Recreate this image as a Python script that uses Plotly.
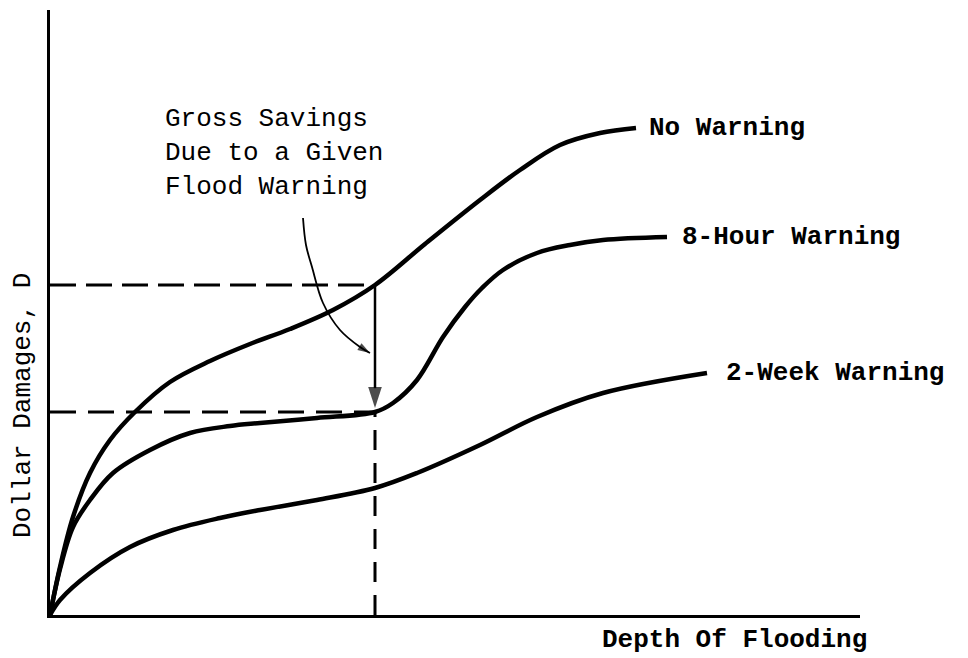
import plotly.graph_objects as go

# ---- data (arbitrary units) ----
no_warning_x = [0, 1.0, 2.3, 4.0, 6.0, 8.5, 12.0, 16.0, 20.0, 24.0, 28.3, 32.5, 37.5, 43.0, 47.0, 51.0, 55.0, 58.6]
no_warning_y = [0, 4.8, 9.8, 14.2, 17.5, 20.3, 23.3, 25.4, 27.1, 28.6, 30.5, 33.0, 37.1, 41.5, 44.5, 47.0, 48.2, 48.7]

hour8_x = [0, 1.0, 2.3, 4.0, 6.3, 10.0, 14.0, 18.0, 21.0, 26.7, 32.5, 34.3, 36.7, 39.3, 41.5, 43.2, 45.3, 48.7, 52.0, 55.3, 61.7]
hour8_y = [0, 4.6, 8.8, 11.5, 14.2, 16.5, 18.2, 18.9, 19.2, 19.7, 20.3, 21.2, 23.5, 27.8, 30.8, 32.7, 34.5, 36.2, 37.0, 37.5, 37.8]

week2_x = [0, 1.0, 4.0, 8.0, 12.3, 17.0, 21.0, 26.7, 32.5, 36.7, 43.0, 48.7, 55.3, 65.7]
week2_y = [0, 1.5, 4.2, 6.8, 8.5, 9.7, 10.5, 11.5, 12.7, 14.2, 17.0, 19.8, 22.2, 24.2]

curve_names = ["No Warning", "8-Hour Warning", "2-Week Warning"]

depth_given = 32.5
damage_no_warning = 33.0
damage_8hour = 20.3

# curved pointer from annotation text to the savings arrow
pointer_x = [25.3, 25.6, 26.2, 27.3, 29.0, 31.0, 32.0]
pointer_y = [39.7, 37.0, 34.8, 31.2, 28.5, 26.8, 26.2]

x_range = [0, 81]
y_range = [0, 60.5]

FONT = "Liberation Mono, Courier New, monospace"

fig = go.Figure()

# dashed reference lines
fig.add_trace(go.Scatter(x=[0, depth_given], y=[damage_no_warning, damage_no_warning], mode="lines",
                         line=dict(color="black", width=3, dash="26px,10px"), hoverinfo="skip"))
fig.add_trace(go.Scatter(x=[0, depth_given], y=[damage_8hour, damage_8hour], mode="lines",
                         line=dict(color="black", width=3, dash="26px,12px"), hoverinfo="skip"))
fig.add_trace(go.Scatter(x=[depth_given, depth_given], y=[0, damage_8hour], mode="lines",
                         line=dict(color="black", width=3, dash="20px,13px"), hoverinfo="skip"))

# curves
for xs, ys, nm in [(no_warning_x, no_warning_y, curve_names[0]),
                   (hour8_x, hour8_y, curve_names[1]),
                   (week2_x, week2_y, curve_names[2])]:
    fig.add_trace(go.Scatter(x=xs, y=ys, mode="lines", name=nm,
                             line=dict(color="black", width=4.5, shape="spline", smoothing=1.0)))

# vertical savings arrow
fig.add_trace(go.Scatter(x=[depth_given, depth_given], y=[damage_no_warning, damage_8hour + 0.4],
                         mode="lines+markers", line=dict(color="black", width=2.5),
                         marker=dict(symbol="arrow", size=[0, 22], angleref="previous", color="black",
                                     line=dict(width=0)),
                         cliponaxis=False, hoverinfo="skip"))

# curved pointer
fig.add_trace(go.Scatter(x=pointer_x, y=pointer_y, mode="lines+markers",
                         line=dict(color="black", width=1.8, shape="spline"),
                         marker=dict(symbol="arrow", size=[0] * (len(pointer_x) - 1) + [13],
                                     angleref="previous", color="black", line=dict(width=0)),
                         cliponaxis=False, hoverinfo="skip"))

# curve end labels
ends = [(no_warning_x[-1], no_warning_y[-1], curve_names[0], 11),
        (hour8_x[-1], hour8_y[-1], curve_names[1], 13),
        (week2_x[-1], week2_y[-1], curve_names[2], 17)]
for x, y, txt, sh in ends:
    fig.add_annotation(x=x, y=y, xref="x", yref="y", text="<b>" + txt + "</b>", showarrow=False,
                       xanchor="left", yanchor="middle", xshift=sh,
                       font=dict(family=FONT, size=26, color="black"))

fig.add_annotation(x=11.3, y=46.25, xref="x", yref="y",
                   text="Gross Savings<br>Due to a Given<br>Flood Warning",
                   showarrow=False, xanchor="left", yanchor="middle", align="left",
                   font=dict(family=FONT, size=26, color="black"))

# axis titles
fig.add_annotation(x=(600 - 50) / 810, y=-25 / 605, xref="paper", yref="paper",
                   text="<b>Depth Of Flooding</b>", showarrow=False, xanchor="left", yanchor="middle",
                   font=dict(family=FONT, size=26, color="black"))
fig.add_annotation(x=-27 / 810, y=209 / 605, xref="paper", yref="paper",
                   text="Dollar Damages, D", textangle=-90, showarrow=False,
                   xanchor="center", yanchor="middle",
                   font=dict(family=FONT, size=26, color="black"))

axis_common = dict(showgrid=False, zeroline=False, showticklabels=False, ticks="",
                   showline=True, linecolor="black", linewidth=3, fixedrange=True)

# the page body adds an 8px margin, so the figure starts 8px in from the top-left corner
fig.update_layout(
    width=952, height=650, autosize=False,
    margin=dict(l=42, r=100, t=2, b=43),
    paper_bgcolor="white", plot_bgcolor="white",
    showlegend=False,
    xaxis=dict(range=x_range, **axis_common),
    yaxis=dict(range=y_range, **axis_common),
)

fig.write_html("out.html", config={"displayModeBar": False})
